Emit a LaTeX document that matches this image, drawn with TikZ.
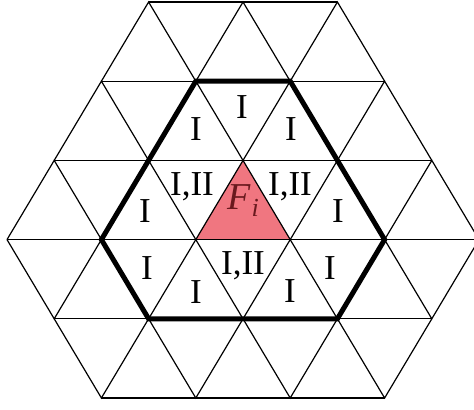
\documentclass[tikz,border=0pt]{standalone}
\usepackage{fontspec}
\setmainfont{Liberation Serif}
\definecolor{fipink}{RGB}{240,118,128}
\definecolor{fitext}{RGB}{105,25,30}
\begin{document}
\begin{tikzpicture}[x=0.5pt,y=-0.5pt,
  gridline/.style={line width=0.6pt,black,line join=miter},
  hexline/.style={line width=2.5pt,black,line join=miter,line cap=round},
  lab/.style={inner sep=0pt,font=\fontsize{17.5}{17.5}\selectfont}]
\useasboundingbox (0,0) rectangle (474,410);
\fill[white] (0,0) rectangle (474,410);
% lattice vertices: x = 7 + 47.2 i, y = 2 + 79.2 r
\foreach \r/\lst in {0/{3,5,7},1/{2,4,6,8},2/{1,3,5,7,9},3/{0,2,4,6,8,10},4/{1,3,5,7,9},5/{2,4,6,8}}{
  \foreach \i in \lst{
    \coordinate (v-\i-\r) at ({7+47.2*\i},{2+79.2*\r});
  }
}
% fill of F_i
\fill[fipink] (v-5-2) -- (v-4-3) -- (v-6-3) -- cycle;
% horizontal lines
\foreach \r/\a/\b in {0/3/7,1/2/8,2/1/9,3/0/10,4/1/9,5/2/8}{
  \draw[gridline] (v-\a-\r) -- (v-\b-\r);
}
% diagonals in widening bands
\foreach \r/\lst in {0/{3,5,7},1/{2,4,6,8},2/{1,3,5,7,9}}{
  \pgfmathtruncatemacro{\rn}{\r+1}
  \foreach \i in \lst{
    \pgfmathtruncatemacro{\il}{\i-1}
    \pgfmathtruncatemacro{\ir}{\i+1}
    \draw[gridline] (v-\il-\rn) -- (v-\i-\r) -- (v-\ir-\rn);
  }
}
% diagonals in narrowing bands
\foreach \r/\lst in {3/{1,3,5,7,9},4/{2,4,6,8}}{
  \pgfmathtruncatemacro{\rn}{\r+1}
  \foreach \j in \lst{
    \pgfmathtruncatemacro{\jl}{\j-1}
    \pgfmathtruncatemacro{\jr}{\j+1}
    \draw[gridline] (v-\jl-\r) -- (v-\j-\rn) -- (v-\jr-\r);
  }
}
% thick hexagon
\draw[hexline] (v-4-1) -- (v-6-1) -- (v-8-3) -- (v-7-4) -- (v-3-4) -- (v-2-3) -- cycle;
% labels
\node[lab] (t1) at (196,129) {I};
\node[lab] (t2) at (242,107) {I};
\node[lab] (t3) at (291,129) {I};
\node[lab] (m1) at (145,211) {I};
\node[lab] (m2) at (192,187) {I,II};
\node[lab,text=fitext,font=\fontsize{19}{19}\selectfont] (fi) at (243,201) {\itshape F\kern0.5pt\raisebox{-0.4ex}{\fontsize{13}{13}\selectfont i}};
\node[lab] (m4) at (290,187) {I,II};
\node[lab] (m5) at (338,211) {I};
\node[lab] (b1) at (147,268) {I};
\node[lab] (b2) at (196,292) {I};
\node[lab] (b3) at (243,266) {I,II};
\node[lab] (b4) at (290,291) {I};
\node[lab] (b5) at (330,268) {I};
\end{tikzpicture}
\end{document}
